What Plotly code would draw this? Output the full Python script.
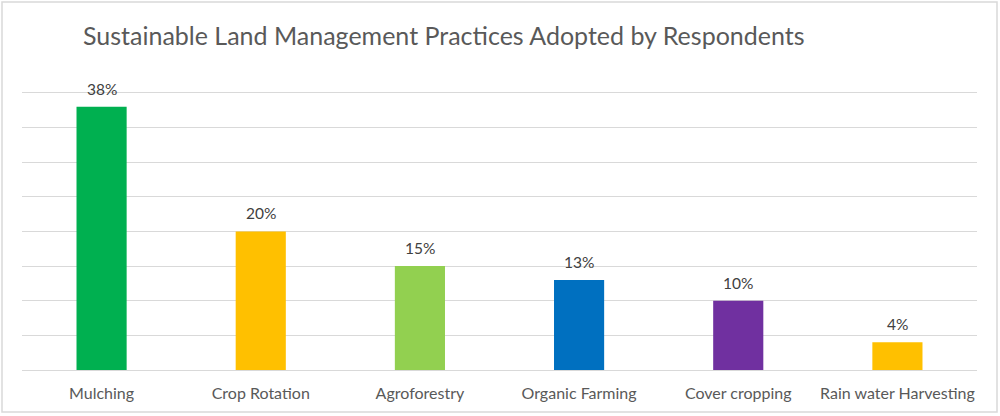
import plotly.graph_objects as go

categories = ["Mulching", "Crop Rotation", "Agroforestry", "Organic Farming", "Cover cropping", "Rain water Harvesting"]
values = [38, 20, 15, 13, 10, 4]
labels = ["38%", "20%", "15%", "13%", "10%", "4%"]
colors = ["#00B050", "#FFC000", "#92D050", "#0070C0", "#7030A0", "#FFC000"]

FONT = "Lato, Open Sans, sans-serif"

fig = go.Figure(go.Bar(
    x=categories, y=values,
    marker=dict(color=colors, line=dict(width=0)),
    width=0.315,
))

for c, v, t in zip(categories, values, labels):
    fig.add_annotation(x=c, y=v, text=t, showarrow=False, yanchor="bottom", yshift=7,
                       font=dict(size=15.5, color="#404040", family=FONT))

L, R, T, B = 22, 23, 86, 46
W, H = 1000, 416
pw, ph = W - L - R, H - T - B

fig.update_layout(
    width=W, height=H,
    margin=dict(l=L, r=R, t=T, b=B),
    paper_bgcolor="white", plot_bgcolor="white",
    showlegend=False,
    title=dict(text="Sustainable Land Management Practices Adopted by Respondents",
               x=0.083, xanchor="left", y=1 - 36 / H, yanchor="middle",
               font=dict(size=25, color="#595959", family=FONT)),
    xaxis=dict(showgrid=False, showline=False, ticks="", ticklabelstandoff=12,
               tickfont=dict(size=16, color="#595959", family=FONT)),
    yaxis=dict(range=[0, 41], tickvals=[0, 5, 10, 15, 20, 25, 30, 35, 40], showgrid=True,
               gridcolor="#D9D9D9", gridwidth=1,
               zeroline=True, zerolinecolor="#D9D9D9", zerolinewidth=1,
               showticklabels=False, ticks=""),
    shapes=[dict(type="rect", xref="paper", yref="paper",
                 x0=(2 - L) / pw, x1=(997 - L) / pw,
                 y0=(H - B - 412) / ph, y1=(H - B - 2) / ph,
                 line=dict(color="#D9D9D9", width=1.5), fillcolor="rgba(0,0,0,0)")],
)

fig.write_html("out.html", config={"displayModeBar": False},
               post_script="document.body.style.margin='0';document.body.style.overflow='hidden';")
